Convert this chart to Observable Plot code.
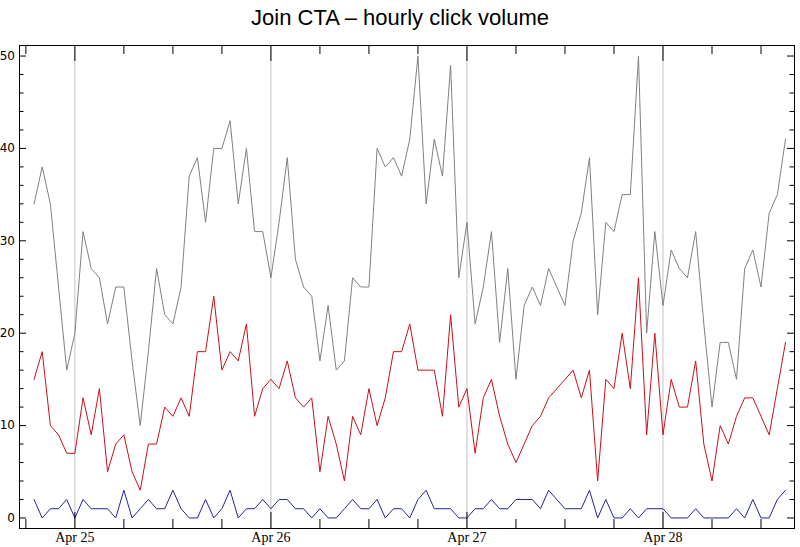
<!DOCTYPE html>
<html>
<head>
<meta charset="utf-8">
<script src="https://cdn.jsdelivr.net/npm/d3@7"></script>
<script src="https://cdn.jsdelivr.net/npm/@observablehq/plot@0.6"></script>
<style>
  body { margin: 0; background: #fff; }
  #title { width: 800px; height: 36px; line-height: 36px; text-align: center;
           font-family: "Liberation Sans", Arial, sans-serif; font-size: 22px; color: #000; }
  #chart svg { display: block; }
</style>
</head>
<body>
<div id="title">Join CTA – hourly click volume</div>
<div id="chart"></div>
<script>
// Hours are counted from Apr 25 00:00; the first sample is at Apr 24 19:00.
const firstHour = -5;

const grayClicks = [34,38,34,25,16,20,31,27,26,21,25,25,17,10,18,27,22,21,25,37,
  39,32,40,40,43,34,40,31,31,26,32,39,28,25,24,17,23,16,17,26,
  25,25,40,38,39,37,41,50,34,41,37,49,26,32,21,25,31,19,27,15,
  23,25,23,27,25,23,30,33,39,22,32,31,35,35,50,20,31,23,29,27,
  26,31,21,12,19,19,15,27,29,25,33,35,41];

const redClicks = [15,18,10,9,7,7,13,9,14,5,8,9,5,3,8,8,12,11,13,11,
  18,18,24,16,18,17,21,11,14,15,14,17,13,12,13,5,11,8,4,11,
  9,14,10,13,18,18,21,16,16,16,11,22,12,14,7,13,15,11,8,6,
  8,10,11,13,14,15,16,13,16,4,15,14,20,14,26,9,20,9,15,12,
  12,17,8,4,10,8,11,13,13,11,9,14,19];

const blueClicks = [2,0,1,1,2,0,2,1,1,1,0,3,0,1,2,1,1,3,1,0,
  0,2,0,1,3,0,1,1,2,1,2,2,1,1,0,1,0,0,1,2,
  1,1,2,0,1,1,0,2,3,1,1,1,0,0,1,1,2,1,1,2,
  2,2,1,3,2,1,1,1,3,0,2,0,0,1,0,1,1,1,0,0,
  0,1,0,0,0,0,1,0,2,0,0,2,3];

const seriesNames = ["series A", "series B", "series C"];
const seriesColors = ["#808080", "#c8101a", "#22229a"];

const dayHours = [0, 24, 48, 72];
const dayLabels = ["Apr 25", "Apr 26", "Apr 27", "Apr 28"];
const yTickValues = [0, 10, 20, 30, 40, 50];

// tick positions (frame ticks)
const xMinorTicks = d3.range(-6, 89, 6).filter(h => h % 24 !== 0);
const yMinorTicks = d3.range(0, 51, 2).filter(v => v % 10 !== 0);

const rows = [];
[grayClicks, redClicks, blueClicks].forEach((vals, s) => {
  vals.forEach((v, i) => rows.push({hour: firstHour + i, clicks: v, series: seriesNames[s]}));
});

const W = 800, H = 511, mT = 9, mB = 19, mL = 19, mR = 6;
const innerH = H - mT - mB, innerW = W - mL - mR;

const chart = Plot.plot({
  width: W, height: H,
  marginTop: mT, marginBottom: mB, marginLeft: mL, marginRight: mR,
  x: {domain: [-6.78, 88.1], label: null},
  y: {domain: [-1.14, 51.14], label: null},
  color: {type: "ordinal", domain: seriesNames, range: seriesColors},
  style: {background: "white", color: "black"},
  marks: [
    Plot.ruleX(dayHours, {stroke: "#c4c4c4", strokeWidth: 1}),
    Plot.line(rows, {x: "hour", y: "clicks", z: "series", stroke: "series", strokeWidth: 1}),
    Plot.frame({stroke: "black", strokeWidth: 1}),
    // bottom & top ticks
    Plot.tickX(dayHours, {stroke: "black", insetTop: innerH - 16}),
    Plot.tickX(dayHours, {stroke: "black", insetBottom: innerH - 16}),
    Plot.tickX(xMinorTicks, {stroke: "black", insetTop: innerH - 9}),
    Plot.tickX(xMinorTicks, {stroke: "black", insetBottom: innerH - 9}),
    // left & right ticks
    Plot.tickY(yTickValues, {stroke: "black", insetRight: innerW - 7}),
    Plot.tickY(yTickValues, {stroke: "black", insetLeft: innerW - 7}),
    Plot.tickY(yMinorTicks, {stroke: "black", insetRight: innerW - 4.5}),
    Plot.tickY(yMinorTicks, {stroke: "black", insetLeft: innerW - 4.5}),
    Plot.axisX(dayHours, {
      anchor: "bottom", tickSize: 0, tickPadding: 4, label: null,
      tickFormat: d => dayLabels[dayHours.indexOf(d)],
      fontFamily: "Liberation Serif", fontSize: 14
    }),
    Plot.axisY(yTickValues, {
      anchor: "left", tickSize: 0, tickPadding: 4.5, label: null,
      fontFamily: "DejaVu Sans", fontSize: 12
    })
  ]
});
document.getElementById("chart").appendChild(chart);
</script>
</body>
</html>
